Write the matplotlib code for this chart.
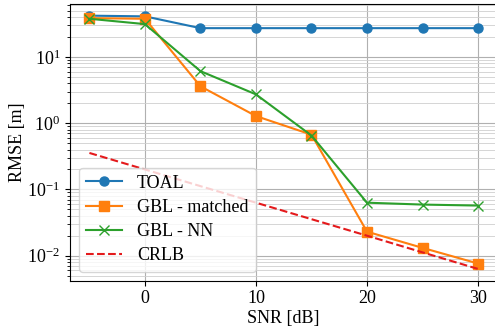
import matplotlib
matplotlib.use("Agg")
import matplotlib.pyplot as plt
from matplotlib.ticker import MultipleLocator

snr = [-5, 0, 5, 10, 15, 20, 25, 30]
toal = [42, 41, 27.2, 27.2, 27.2, 27.2, 27.2, 27.2]
gbl_matched = [38.5, 37.7, 3.6, 1.28, 0.67, 0.023, 0.0131, 0.0076]
gbl_nn = [37.7, 31.3, 6.1, 2.72, 0.65, 0.063, 0.059, 0.057]
crlb = [0.355, 0.2, 0.112, 0.063, 0.0355, 0.02, 0.0112, 0.0063]

plt.rcParams['font.family'] = ['Liberation Serif', 'DejaVu Serif']
plt.rcParams['font.size'] = 13
plt.rcParams['mathtext.fontset'] = 'stix'

fig = plt.figure(figsize=(4.95, 3.33), dpi=100)
ax = fig.add_axes([0.1414, 0.157, 0.8636, 0.831])

ax.plot(snr, toal, '-o', color='#1f77b4', lw=1.5, ms=6.5, label='TOAL')
ax.plot(snr, gbl_matched, '-s', color='#ff7f0e', lw=1.5, ms=6.5, label='GBL - matched')
ax.plot(snr, gbl_nn, '-x', color='#2ca02c', lw=1.5, ms=6.5, label='GBL - NN')
ax.plot(snr, crlb, '--', color='#e41a1c', lw=1.5, label='CRLB')

ax.set_yscale('log')
ax.set_xlim(-6.75, 31.75)
ax.set_ylim(0.00418, 63)
ax.xaxis.set_major_locator(MultipleLocator(10))
ax.grid(True, which='major', color='#b0b0b0', lw=0.8)
ax.grid(True, which='minor', color='#cfcfcf', lw=0.6)
ax.set_axisbelow(True)
ax.set_xlabel('SNR [dB]', labelpad=2)
ax.set_ylabel('RMSE [m]', labelpad=1)
ax.legend(loc='lower left', fontsize=13, labelspacing=0.4)

fig.savefig('out.png', dpi=100)
